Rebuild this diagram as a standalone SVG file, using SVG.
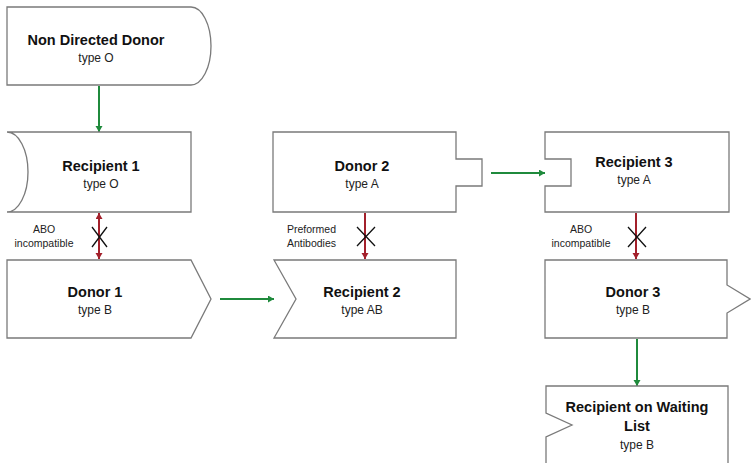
<svg xmlns="http://www.w3.org/2000/svg" width="751" height="463" viewBox="0 0 751 463">
<defs>
<marker id="ag" markerUnits="userSpaceOnUse" markerWidth="8" markerHeight="8" refX="6" refY="3.5" orient="auto"><path d="M0,0 L6,3.5 L0,7 Z" fill="#1f8a3c"/></marker>
<marker id="ar" markerUnits="userSpaceOnUse" markerWidth="8" markerHeight="8" refX="6" refY="3.5" orient="auto-start-reverse"><path d="M0,0 L6,3.5 L0,7 Z" fill="#a3202b"/></marker>
<style>
.box{fill:#fff;stroke:#7a7a7a;stroke-width:1.3}
.t{font-family:"Liberation Sans",Arial,sans-serif;font-size:14.5px;font-weight:bold;fill:#111;text-anchor:middle}
.s{font-family:"Liberation Sans",Arial,sans-serif;font-size:12px;fill:#222;text-anchor:middle}
.l{font-family:"Liberation Sans",Arial,sans-serif;font-size:10.5px;fill:#222}
.g{stroke:#1f8a3c;stroke-width:2;fill:none;marker-end:url(#ag)}
.r{stroke:#a3202b;stroke-width:2;fill:none;marker-end:url(#ar)}
.x{stroke:#111;stroke-width:1.3}
</style>
</defs>
<rect width="751" height="463" fill="#fff"/>
<g id="connectors">
<line class="g" x1="99" y1="86" x2="99" y2="132"/>
<line class="g" x1="220" y1="299" x2="274" y2="299"/>
<line class="g" x1="491" y1="173" x2="545" y2="173"/>
<line class="g" x1="637" y1="339" x2="637" y2="386"/>
<line class="r" x1="99" y1="213" x2="99" y2="259" marker-start="url(#ar)"/>
<line class="r" x1="365" y1="213" x2="365" y2="259"/>
<line class="r" x1="636" y1="213" x2="636" y2="259"/>
<path class="x" d="M92,227 L107,247 M107,227 L92,247"/>
<path class="x" d="M357,227 L375,246 M375,227 L357,246"/>
<path class="x" d="M628,227 L646,247 M646,227 L628,247"/>
<text class="l" x="44" y="233" text-anchor="middle">ABO</text>
<text class="l" x="44" y="247" text-anchor="middle">incompatible</text>
<text class="l" x="287" y="233">Preformed</text>
<text class="l" x="287" y="247">Antibodies</text>
<text class="l" x="581" y="233" text-anchor="middle">ABO</text>
<text class="l" x="581" y="247" text-anchor="middle">incompatible</text>
</g>
<g id="nondirected">
<path class="box" d="M7,7 H191 A20,39 0 0 1 191,85 H7 Z"/>
<text class="t" x="96" y="45">Non Directed Donor</text>
<text class="s" x="96" y="62">type O</text>
</g>
<g id="recipient1">
<path class="box" d="M7,132 H191 V212 H7 A21,40 0 0 0 7,132 Z"/>
<text class="t" x="101" y="171">Recipient 1</text>
<text class="s" x="101" y="188">type O</text>
</g>
<g id="donor1">
<path class="box" d="M7,260 H191 L211,299 L191,338 H7 Z"/>
<text class="t" x="95" y="297">Donor 1</text>
<text class="s" x="95" y="314">type B</text>
</g>
<g id="donor2">
<path class="box" d="M273,132 H456 V159 H482 V186 H456 V212 H273 Z"/>
<text class="t" x="362" y="171">Donor 2</text>
<text class="s" x="362" y="188">type A</text>
</g>
<g id="recipient2">
<path class="box" d="M274,260 H456 V338 H274 L296,299 Z"/>
<text class="t" x="362" y="297">Recipient 2</text>
<text class="s" x="362" y="314">type AB</text>
</g>
<g id="recipient3">
<path class="box" d="M545,132 H729 V212 H545 V186 H571 V159 H545 Z"/>
<text class="t" x="634" y="167">Recipient 3</text>
<text class="s" x="634" y="184">type A</text>
</g>
<g id="donor3">
<path class="box" d="M545,260 H727 V285 L750,299 L727,313 V338 H545 Z"/>
<text class="t" x="633" y="297">Donor 3</text>
<text class="s" x="633" y="314">type B</text>
</g>
<g id="waitinglist">
<path class="box" d="M546,386 H728 V475 H546 V437 L572,425 L546,413 Z"/>
<text class="t" x="637" y="412">Recipient on Waiting</text>
<text class="t" x="637" y="431">List</text>
<text class="s" x="637" y="449">type B</text>
</g>
</svg>
